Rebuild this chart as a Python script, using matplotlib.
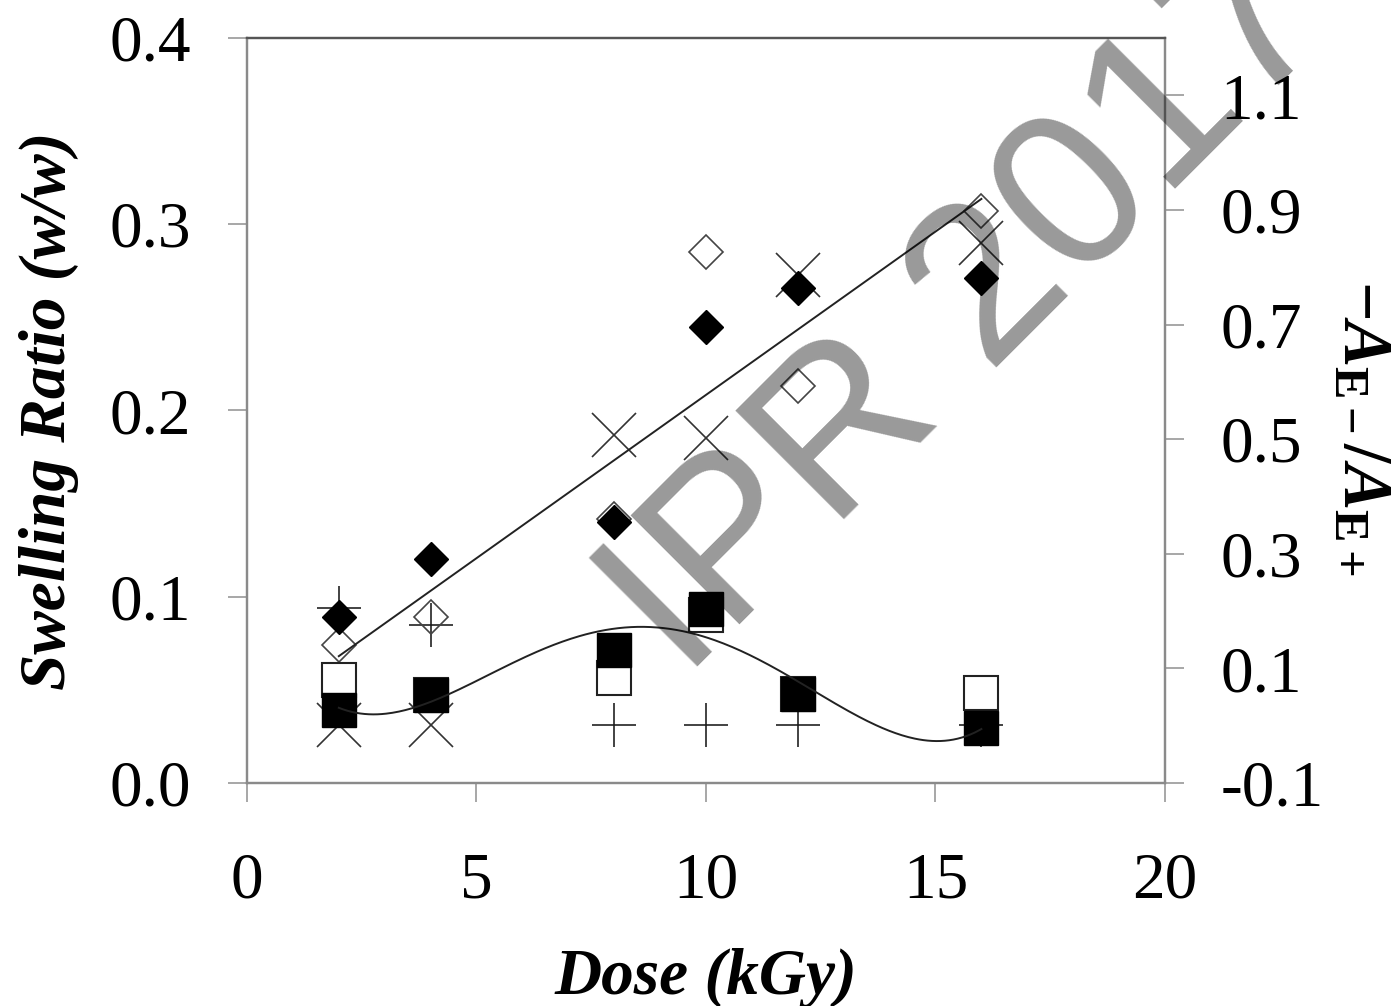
import numpy as np
import matplotlib
matplotlib.use('Agg')
import matplotlib.pyplot as plt

plt.rcParams['font.family'] = ['Liberation Serif', 'DejaVu Serif']
plt.rcParams['mathtext.fontset'] = 'custom'
plt.rcParams['mathtext.rm'] = 'Liberation Serif:bold'
plt.rcParams['mathtext.it'] = 'Liberation Serif:bold:italic'
plt.rcParams['mathtext.bf'] = 'Liberation Serif:bold'

# data
dose = [2, 4, 8, 10, 12, 16]
# left axis: swelling ratio (w/w)
diamond_filled = [0.089, 0.120, 0.140, 0.245, 0.266, 0.271]
diamond_open = [0.074, 0.089, 0.142, 0.285, 0.213, 0.307]
cross_x = [0.031, 0.031, 0.187, 0.185, 0.273, 0.290]
cross_plus = [0.094, 0.085, 0.031, 0.031, 0.031, 0.031]
# right axis: -A_E-/A_E+
square_filled = [0.027, 0.054, 0.132, 0.204, 0.055, -0.004]
square_open = [0.080, 0.054, 0.083, 0.193, 0.055, 0.057]

fig = plt.figure(figsize=(13.95, 10.06), dpi=100)
ax = fig.add_axes([0.17706, 0.22167, 0.65806, 0.74056])
ax2 = ax.twinx()

ax.set_xlim(0, 20)
ax.set_ylim(0, 0.4)
ax2.set_ylim(-0.1, 1.2)

# left axis series
ax.plot(dose, cross_x, linestyle='none', marker='x', ms=31, mew=1.2, color='#333333', zorder=2)
ax.plot(dose, cross_plus, linestyle='none', marker='+', ms=31, mew=1.2, color='#222222', zorder=2)
ax.plot(dose, diamond_open, linestyle='none', marker='D', ms=17, mew=1.2,
        mfc='none', mec='#444444', zorder=3)
ax.plot(dose, diamond_filled, linestyle='none', marker='D', ms=17, mew=1,
        mfc='black', mec='black', zorder=4)

# linear trend of the open diamonds
k, b = np.polyfit(dose, diamond_open, 1)
xl = np.array([dose[0], dose[-1]])
ax.plot(xl, k * xl + b, color='#222222', lw=1.4, zorder=5)

# right axis series
ax2.plot(dose, square_open, linestyle='none', marker='s', ms=24, mew=1.5,
         mfc='white', mec='#222222', zorder=3)
ax2.plot(dose, square_filled, linestyle='none', marker='s', ms=24, mew=1,
         mfc='black', mec='black', zorder=4)

# polynomial trend of the filled squares
p = np.polyfit(dose, square_filled, 4)
xc = np.linspace(dose[0], dose[-1], 300)
ax2.plot(xc, np.polyval(p, xc), color='#222222', lw=1.4, zorder=5)

# ticks
ax.set_xticks([0, 5, 10, 15, 20])
ax.set_xticklabels(['0', '5', '10', '15', '20'])
ax.set_yticks([0.0, 0.1, 0.2, 0.3, 0.4])
ax.set_yticklabels(['0.0', '0.1', '0.2', '0.3', '0.4'])
ax2.set_yticks([-0.1, 0.1, 0.3, 0.5, 0.7, 0.9, 1.1])
ax2.set_yticklabels(['-0.1', '0.1', '0.3', '0.5', '0.7', '0.9', '1.1'])

ax.tick_params(axis='x', direction='out', length=14, width=1.3, color='#a0a0a0',
               labelsize=47, pad=36)
ax.tick_params(axis='y', direction='out', length=14, width=1.3, color='#a0a0a0',
               labelsize=47, pad=26)
ax2.tick_params(axis='y', direction='out', length=14, width=1.3, color='#a0a0a0',
                labelsize=47, pad=26)

for a in (ax, ax2):
    for s in a.spines.values():
        s.set_linewidth(1.6)
        s.set_color('#8a8a8a')
    a.spines['top'].set_color('#555555')

ax.set_xlabel('Dose (kGy)', fontsize=47, fontweight='bold', fontstyle='italic', labelpad=26)
ax.set_ylabel('Swelling Ratio (w/w)', fontsize=47, fontweight='bold', fontstyle='italic', labelpad=22)
fig.text(1360 / 1395, 1 - 428 / 1006, r'$-A_{\mathrm{E-}}/A_{\mathrm{E+}}$',
         fontsize=50, rotation=-90, ha='center', va='center')

# watermark (cut by the top edge, as in the original)
fig.text(970 / 1395, 1 - 312 / 1006, 'IPR 2017', family='Liberation Sans',
         fontsize=160, color='black', alpha=0.4, rotation=45,
         ha='center', va='center', zorder=10)

fig.savefig('out.png', dpi=100)
